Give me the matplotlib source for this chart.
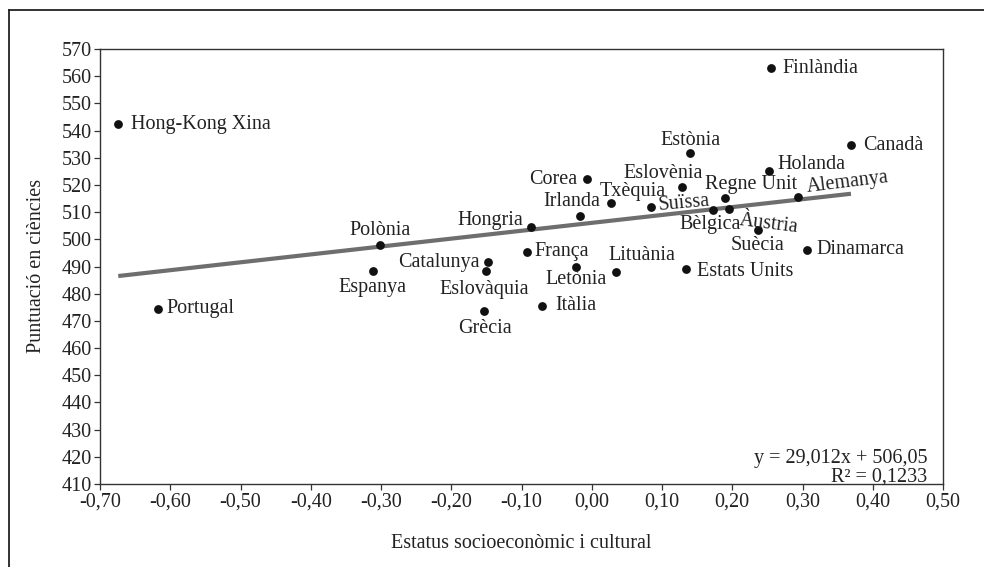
import matplotlib
matplotlib.use("Agg")
import matplotlib.pyplot as plt
from matplotlib.lines import Line2D
import numpy as np

plt.rcParams['font.family'] = ['Liberation Serif', 'DejaVu Serif']

# ---- data ----
countries = ["Hong-Kong Xina", "Portugal", "Polònia", "Espanya", "Catalunya", "Eslovàquia",
             "Grècia", "Itàlia", "França", "Hongria", "Irlanda", "Letònia", "Corea",
             "Txèquia", "Lituània", "Suïssa", "Eslovènia", "Estats Units", "Estònia",
             "Bèlgica", "Regne Unit", "Àustria", "Suècia", "Holanda", "Finlàndia",
             "Alemanya", "Dinamarca", "Canadà"]
escs = [-0.674, -0.618, -0.301, -0.312, -0.147, -0.151,
        -0.154, -0.071, -0.092, -0.087, -0.017, -0.023, -0.007,
        0.028, 0.034, 0.085, 0.128, 0.134, 0.140,
        0.173, 0.190, 0.196, 0.236, 0.252, 0.255,
        0.293, 0.307, 0.369]
science = [542.3, 474.4, 497.9, 488.5, 491.5, 488.5,
           473.8, 475.5, 495.5, 504.4, 508.7, 489.9, 522.1,
           513.3, 488.1, 511.8, 519.1, 489.0, 531.6,
           510.8, 515.1, 511.3, 503.4, 525.2, 563.0,
           515.7, 496.1, 534.7]
trend_slope = 29.012
trend_intercept = 506.05
equation_text = "y = 29,012x + 506,05"
r2_text = "R² = 0,1233"
x_ticks = [-0.70, -0.60, -0.50, -0.40, -0.30, -0.20, -0.10, 0.00, 0.10, 0.20, 0.30, 0.40, 0.50]
x_ticklabels = ["-0,70", "-0,60", "-0,50", "-0,40", "-0,30", "-0,20", "-0,10", "0,00",
                "0,10", "0,20", "0,30", "0,40", "0,50"]
y_ticks = list(range(410, 571, 10))
y_ticklabels = [str(v) for v in y_ticks]
x_label = "Estatus socioeconòmic i cultural"
y_label = "Puntuació en ciències"

# ---- label placement (pixel offsets, alignment, rotation) ----
label_style = {
    "Hong-Kong Xina": (13, 0, "left", 0),
    "Portugal": (9, 0, "left", 0),
    "Polònia": (0, 15, "center", 0),
    "Espanya": (0, -17, "center", 0),
    "Catalunya": (-9, 0, "right", 0),
    "Eslovàquia": (-1, -19, "center", 0),
    "Grècia": (1, -18, "center", 0),
    "Itàlia": (13, 0, "left", 0),
    "França": (7, 0, "left", 0),
    "Hongria": (-7, 7, "right", 0),
    "Irlanda": (-8, 14, "center", 0),
    "Letònia": (0, -13, "center", 0),
    "Corea": (-10, 0, "right", 0),
    "Txèquia": (21, 12, "center", 0),
    "Lituània": (26, 16, "center", 0),
    "Suïssa": (7, 2, "left", 5),
    "Eslovènia": (-19, 14, "center", 0),
    "Estats Units": (11, -2, "left", 0),
    "Estònia": (0, 13, "center", 0),
    "Bèlgica": (-3, -15, "center", 0),
    "Regne Unit": (26, 14, "center", 0),
    "Àustria": (10, -12, "left", -7),
    "Suècia": (0, -15, "center", 0),
    "Holanda": (9, 6, "left", 0),
    "Finlàndia": (12, 0, "left", 0),
    "Alemanya": (9, 9, "left", 7),
    "Dinamarca": (9, 0, "left", 0),
    "Canadà": (12, -1, "left", 0),
}

FS = 14.5
W, H = 984, 567
fig = plt.figure(figsize=(W / 100, H / 100), dpi=100)
ax = fig.add_axes([100 / W, 1 - 484 / H, (943 - 100) / W, (484 - 49) / H])

# outer frame (left and top edges visible)
fig.add_artist(Line2D([9 / W, 9 / W], [1 - 10 / H, -0.05], transform=fig.transFigure,
                      color="#222222", lw=1.3))
fig.add_artist(Line2D([9 / W, 1.05], [1 - 10 / H, 1 - 10 / H], transform=fig.transFigure,
                      color="#222222", lw=1.3))

# trend line
xs = np.array([min(escs), max(escs)])
ax.plot(xs, trend_slope * xs + trend_intercept, color="#6e6e6e", lw=3.0,
        solid_capstyle="butt", zorder=2)

ax.scatter(escs, science, s=40, color="#111111", zorder=3, linewidths=0)

for name, x, y in zip(countries, escs, science):
    dx, dy, ha, rot = label_style[name]
    ax.annotate(name, (x, y), xytext=(dx, dy), textcoords="offset pixels",
                ha=ha, va="center", fontsize=FS, color="#222222", rotation=rot,
                rotation_mode="anchor")

ax.set_xlim(-0.70, 0.50)
ax.set_ylim(410, 570)
ax.set_xticks(x_ticks)
ax.set_xticklabels(x_ticklabels)
ax.set_yticks(y_ticks)
ax.set_yticklabels(y_ticklabels)
ax.tick_params(axis="both", direction="out", length=4, width=0.9, color="#333333",
               labelsize=FS, labelcolor="#222222", pad=2)
for sp in ax.spines.values():
    sp.set_color("#333333")
    sp.set_linewidth(1.0)

fig.text(521 / W, 1 - 543 / H, x_label, ha="center", va="center", fontsize=FS,
         color="#222222")
fig.text(37 / W, 1 - 266 / H, y_label, ha="center", va="center", fontsize=FS,
         color="#222222", rotation=90)

ax.text(927 / W, 1 - 459 / H, equation_text, transform=fig.transFigure, ha="right",
        va="center", fontsize=FS, color="#222222")
ax.text(927 / W, 1 - 477 / H, r2_text, transform=fig.transFigure, ha="right",
        va="center", fontsize=FS, color="#222222")

fig.savefig("out.png", dpi=100)
